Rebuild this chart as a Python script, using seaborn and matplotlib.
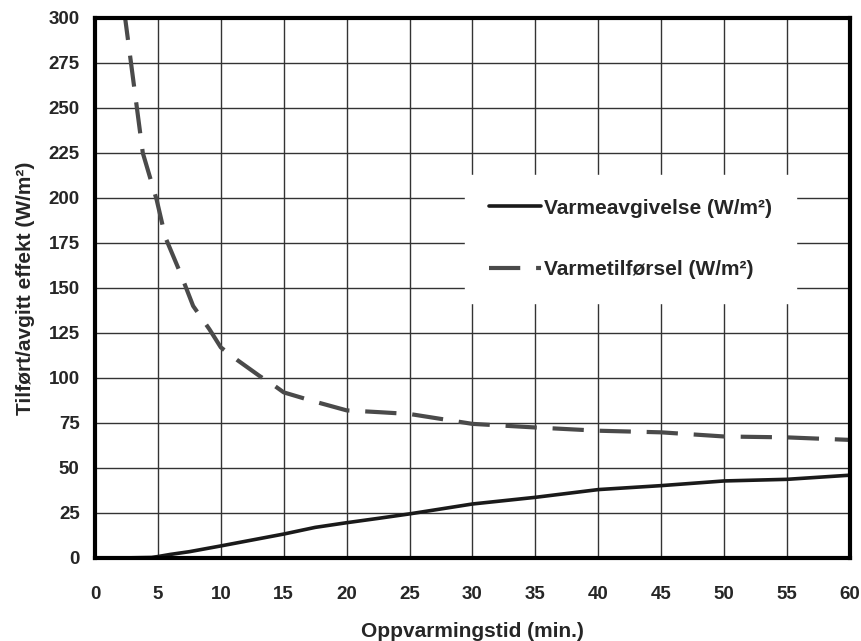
import pandas as pd
import matplotlib
matplotlib.use('Agg')
import matplotlib.pyplot as plt
import seaborn as sns

# Data
tid_avgivelse = [0, 2, 4.5, 5, 6, 7.5, 10, 12.5, 15, 17.5, 20, 22.5, 25, 30, 35, 40, 45, 50, 55, 60]
varmeavgivelse = [0, 0, 0.3, 0.8, 2, 3.5, 6.7, 10, 13.3, 17, 19.6, 22, 24.5, 30, 33.7, 38, 40.2, 42.8, 43.7, 46]

tid_tilforsel = [2.3, 2.9, 3.8, 4.9, 5.6, 6.8, 7.8, 9.1, 10, 11.3, 13.1, 14.2, 15, 17.4, 20, 22.6, 25, 30, 35, 40, 45, 50, 55, 60]
varmetilforsel = [305, 273, 225, 199, 178, 158, 140, 127, 117, 110, 101, 96, 92, 87, 82, 81, 80, 74.5, 72.5, 70.7, 69.8, 67.5, 67, 65.6]

x_ticks = list(range(0, 61, 5))
y_ticks = list(range(0, 301, 25))

df_avg = pd.DataFrame({'tid': tid_avgivelse, 'verdi': varmeavgivelse})
df_til = pd.DataFrame({'tid': tid_tilforsel, 'verdi': varmetilforsel})

sns.set_style('white')
plt.rcParams['font.family'] = ['Liberation Sans', 'DejaVu Sans']
plt.rcParams['font.weight'] = 'bold'

fig = plt.figure(figsize=(8.62, 6.41), dpi=100)
ax = fig.add_axes([0.1102, 0.1295, 0.8758, 0.8425])

sns.lineplot(data=df_avg, x='tid', y='verdi', ax=ax, color='#1a1a1a', linewidth=2.6,
             label='Varmeavgivelse (W/m²)')
sns.lineplot(data=df_til, x='tid', y='verdi', ax=ax, color='#4a4a4a', linewidth=3.0,
             label='Varmetilførsel (W/m²)')
ax.lines[-1].set_dashes((7.5, 3.8))

ax.set_xlim(0, 60)
ax.set_ylim(0, 300)
ax.set_xticks(x_ticks)
ax.set_yticks(y_ticks)
ax.grid(True, color='#333333', linewidth=1.0)
ax.set_axisbelow(True)

for side in ['left', 'right', 'top', 'bottom']:
    ax.spines[side].set_visible(True)
    ax.spines[side].set_color('black')
    ax.spines[side].set_linewidth(3)

ax.tick_params(axis='x', length=3, pad=17, labelsize=13.5)
ax.tick_params(axis='y', length=3, pad=8, labelsize=13.5)
for lbl in ax.get_xticklabels() + ax.get_yticklabels():
    lbl.set_fontweight('bold')

ax.set_xlabel('Oppvarmingstid (min.)', fontsize=15, fontweight='bold', labelpad=14)
ax.set_ylabel('Tilført/avgitt effekt (W/m²)', fontsize=15, fontweight='bold', labelpad=10)

leg = ax.legend(loc='upper left', bbox_to_anchor=(0.49, 0.71), frameon=True,
                fancybox=False, edgecolor='white', facecolor='white', framealpha=1,
                fontsize=15, handlelength=2.5, handletextpad=0.15, labelspacing=2.05,
                borderpad=1.15, borderaxespad=0)
for t in leg.get_texts():
    t.set_fontweight('bold')

plt.savefig('out.png', dpi=100)
